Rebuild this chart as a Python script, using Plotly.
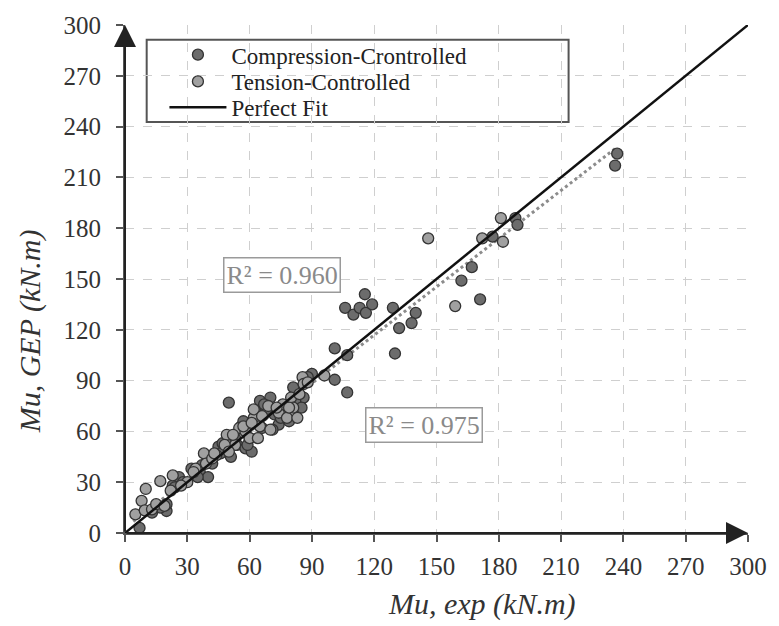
import plotly.graph_objects as go

# ---------------- data ----------------
comp_x = [237, 236, 188, 189, 177, 167, 162, 171, 140, 138, 132, 129, 130, 115.5, 106, 110, 113, 116, 119,
          101, 107, 101, 90, 107, 50,
          7, 20, 20, 23, 26, 32, 36, 40, 42, 45, 51, 54, 58, 60, 63, 65, 66, 70, 72, 74, 77, 79, 81, 84, 86,
          88, 61, 56, 46, 68, 35, 28, 17, 13,
          47, 53, 57, 59, 67, 71, 75, 82, 85, 24, 37]
comp_y = [224, 217, 186, 182, 175, 157, 149, 138, 130, 124, 121, 133, 106, 141, 133, 129, 133, 130, 135,
          109, 105, 90.5, 94, 83, 77,
          3, 13, 17, 28, 33, 38, 36, 33, 41, 51, 45, 52, 50, 56, 72, 78, 62, 80, 70, 64, 72, 66, 86, 75, 80,
          92, 48, 63, 47, 73, 33, 30, 15, 12,
          53, 56, 66, 52, 76, 61, 68, 78, 74, 27, 40]

tens_x = [181, 172, 182, 146, 159, 85.5, 96,
          5, 8, 10, 17, 9.5, 13, 23, 30, 38, 44, 39, 49, 53, 55, 58, 60, 62, 64, 65, 69, 70, 74, 78, 80, 83,
          81, 86, 57, 62, 48, 34, 27, 22, 15, 42, 52, 88, 76,
          50, 61, 66, 73, 79, 84, 43, 33, 19]
tens_y = [186, 174, 172, 174, 134, 92, 93,
          11, 19, 26, 30.6, 13.4, 14, 34, 30, 47, 46, 41, 58, 52, 62, 60, 56, 68, 56, 63, 75, 61, 71, 68, 80, 68,
          74, 88, 63, 73, 52, 38, 28, 25, 17, 44, 58, 89, 76,
          48, 65, 69, 74, 74, 82, 47, 36, 16]

fit_x = [0, 300]          # perfect fit y = x
trend_x = [4, 236]        # linear trend (dotted)
trend_slope, trend_icpt = 0.949, 3.0

ticks = list(range(0, 301, 30))
tick_text = [str(t) for t in ticks]

FONT = "Liberation Serif, Times New Roman, serif"

fig = go.Figure()

fig.add_trace(go.Scatter(
    x=trend_x, y=[trend_slope * v + trend_icpt for v in trend_x], mode="lines",
    line=dict(color="#8c8c8c", width=3, dash="dot"), showlegend=False, hoverinfo="skip"))

fig.add_trace(go.Scatter(
    x=comp_x, y=comp_y, mode="markers", name="Compression-Crontrolled", legend="legend",
    marker=dict(size=11, color="#6c6c6c", line=dict(color="#333333", width=1.3))))
fig.add_trace(go.Scatter(
    x=tens_x, y=tens_y, mode="markers", name="Tension-Controlled", legend="legend2",
    marker=dict(size=11, color="#a0a0a0", line=dict(color="#333333", width=1.3))))
fig.add_trace(go.Scatter(
    x=fit_x, y=fit_x, mode="lines", name="Perfect Fit", legend="legend3",
    line=dict(color="#111111", width=2.5)))

axis_common = dict(
    range=[0, 300], tickvals=ticks, ticktext=tick_text, showgrid=True,
    gridcolor="#cfcfcf", griddash="dash", gridwidth=1, zeroline=False,
    showline=True, linecolor="#555555", linewidth=2,
    ticks="outside", ticklen=7, tickwidth=2, tickcolor="#555555",
    tickfont=dict(family=FONT, size=25, color="#333333"),
)
fig.update_xaxes(**axis_common, ticklabelstandoff=3)
fig.update_yaxes(**axis_common, ticklabelstandoff=10)

L, R, T, B = 125, 22, 20, 93
W, H = 779, 626
pw, ph = W - L - R, H - T - B

def px_x(p):
    return (p - L) / pw

def px_y(p):
    return (H - B - p) / ph

annotations = [
    # axis arrows
    dict(x=0, y=300, ax=0, ay=0, xref="x", yref="y", axref="x", ayref="y", showarrow=True,
         arrowhead=2, arrowsize=2.2, arrowwidth=2, arrowcolor="#222222", text=""),
    dict(x=300, y=0, ax=0, ay=0, xref="x", yref="y", axref="x", ayref="y", showarrow=True,
         arrowhead=2, arrowsize=2.2, arrowwidth=2, arrowcolor="#222222", text=""),
    # R² boxes
    dict(x=75.5, y=152.6, xref="x", yref="y", text="R² = 0.960", showarrow=False,
         font=dict(family=FONT, size=26, color="#8a8a8a"), bordercolor="#9a9a9a", borderwidth=1.5,
         borderpad=2, bgcolor="white"),
    dict(x=143.9, y=63.7, xref="x", yref="y", text="R² = 0.975", showarrow=False,
         font=dict(family=FONT, size=26, color="#8a8a8a"), bordercolor="#9a9a9a", borderwidth=1.5,
         borderpad=2, bgcolor="white"),
    # axis titles
    dict(x=px_x(487), y=px_y(605), xref="paper", yref="paper", showarrow=False,
         xanchor="center", yanchor="middle",
         text="<i>Mu, exp (kN.m)</i>", font=dict(family=FONT, size=30, color="#333333")),
    dict(x=px_x(29), y=px_y(329), xref="paper", yref="paper", showarrow=False, textangle=-90,
         xanchor="center", yanchor="middle",
         text="<i>Mu, GEP (kN.m)</i>", font=dict(family=FONT, size=30, color="#333333")),
]

shapes = [
    dict(type="rect", xref="paper", yref="paper", x0=px_x(147), x1=px_x(575), y0=px_y(118), y1=px_y(35),
         fillcolor="white", line=dict(color="#555555", width=2), layer="between"),
]

leg_common = dict(x=px_x(165), xanchor="left", yanchor="middle",
                  bgcolor="rgba(0,0,0,0)", borderwidth=0, itemwidth=57,
                  font=dict(family=FONT, size=23, color="#222222"))

fig.update_layout(
    width=W, height=H, margin=dict(l=L, r=R, t=T, b=B),
    plot_bgcolor="white", paper_bgcolor="white",
    annotations=annotations, shapes=shapes,
    legend=dict(y=px_y(50), **leg_common),
    legend2=dict(y=px_y(77), **leg_common),
    legend3=dict(y=px_y(103), **leg_common),
)

fig.write_html("out.html")
